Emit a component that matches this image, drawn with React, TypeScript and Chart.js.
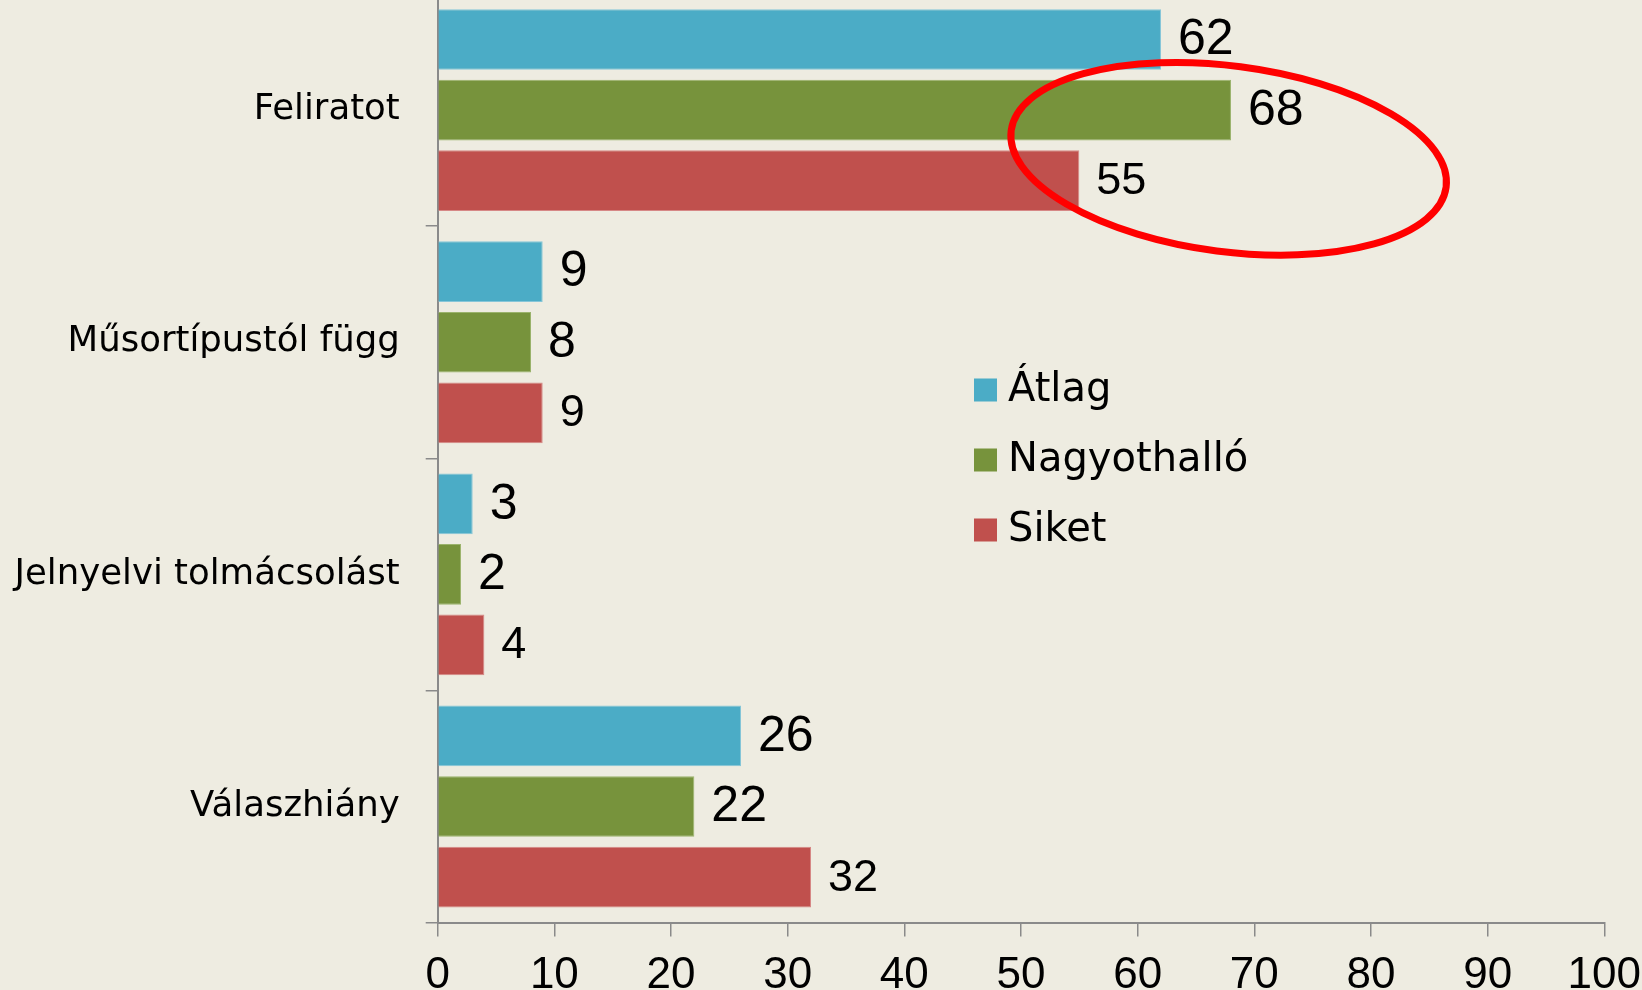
import React, { useEffect, useRef } from "react";
import { Chart, registerables } from "chart.js";

Chart.register(...registerables);

// ---- data ----
const categories = ["Feliratot", "Műsortípustól függ", "Jelnyelvi tolmácsolást", "Válaszhiány"];
const seriesNames = ["Átlag", "Nagyothalló", "Siket"];
const atlagValues = [62, 9, 3, 26];
const nagyothalloValues = [68, 8, 2, 22];
const siketValues = [55, 9, 4, 32];
const xTickMin = 0;
const xTickMax = 100;
const xTickStep = 10;

// ---- styles ----
const BG = "#EEECE1";
const COLORS = ["#4BACC6", "#77933C", "#C0504D"];
const BORDERS = ["#86c6d8", "#9bb36c", "#d68886"];
const LABEL_SIZES = [50, 50, 45];
const AXIS_COLOR = "#8a8a8a";

const CANVAS_W = 1642;
const CANVAS_H = 1060;
const CANVAS_TOP = -60;
const AREA_TOP = 54; // canvas coords
const AREA_BOTTOM = 982.6; // canvas coords
const AREA_LEFT = 437.7;
const AREA_RIGHT_GAP = 37.7;

// highlight ellipse (in data units)
const ELLIPSE_CENTER_VALUE = 67.8;
const ELLIPSE_HALF_WIDTH = 18.8;
const ELLIPSE_CENTER_INDEX = 0.21;
const ELLIPSE_HALF_HEIGHT = 0.4;
const ELLIPSE_ANGLE_DEG = 7.4;

const valueLabels = {
  id: "valueLabels",
  afterDatasetsDraw(chart: any) {
    const ctx = chart.ctx;
    chart.data.datasets.forEach((ds: any, i: number) => {
      const meta = chart.getDatasetMeta(i);
      ctx.save();
      ctx.font = `${LABEL_SIZES[i]}px "Liberation Sans", Arial, sans-serif`;
      ctx.fillStyle = "#000";
      ctx.textAlign = "left";
      ctx.textBaseline = "middle";
      meta.data.forEach((bar: any, j: number) => {
        ctx.fillText(String(ds.data[j]), bar.x + 17, bar.y + 1);
      });
      ctx.restore();
    });
  },
};

const customLegend = {
  id: "customLegend",
  afterDraw(chart: any) {
    const ctx = chart.ctx;
    const x0 = 974;
    const y0 = 390 - CANVAS_TOP;
    const rowGap = 70;
    const box = 23;
    ctx.save();
    ctx.font = `40px "DejaVu Sans", sans-serif`;
    ctx.textAlign = "left";
    ctx.textBaseline = "middle";
    chart.data.datasets.forEach((ds: any, i: number) => {
      const cy = y0 + i * rowGap;
      ctx.fillStyle = ds.backgroundColor;
      ctx.fillRect(x0, cy - box / 2, box, box);
      ctx.fillStyle = "#000";
      ctx.fillText(ds.label, x0 + 34, cy + 1);
    });
    ctx.restore();
  },
};

const highlight = {
  id: "highlight",
  afterDraw(chart: any) {
    const xs = chart.scales.x;
    const ys = chart.scales.y;
    const ctx = chart.ctx;
    const cx = xs.getPixelForValue(ELLIPSE_CENTER_VALUE);
    const rx = xs.getPixelForValue(ELLIPSE_CENTER_VALUE + ELLIPSE_HALF_WIDTH) - cx;
    const p0 = ys.getPixelForValue(0);
    const p1 = ys.getPixelForValue(1);
    const cy = p0 + (p1 - p0) * ELLIPSE_CENTER_INDEX;
    const ry = (p1 - p0) * ELLIPSE_HALF_HEIGHT;
    ctx.save();
    ctx.beginPath();
    ctx.ellipse(cx, cy, rx, ry, (ELLIPSE_ANGLE_DEG * Math.PI) / 180, 0, Math.PI * 2);
    ctx.strokeStyle = "#FF0000";
    ctx.lineWidth = 7;
    ctx.stroke();
    ctx.restore();
  },
};

export default function App() {
  const ref = useRef<HTMLCanvasElement | null>(null);

  useEffect(() => {
    if (!ref.current) return;
    const seriesValues = [atlagValues, nagyothalloValues, siketValues];
    const chart = new Chart(ref.current, {
      type: "bar",
      data: {
        labels: categories,
        datasets: seriesNames.map((name, i) => ({
          label: name,
          data: seriesValues[i],
          backgroundColor: COLORS[i],
          borderColor: BORDERS[i],
          borderWidth: 1,
          categoryPercentage: 0.912,
          barPercentage: 0.86,
        })),
      },
      options: {
        indexAxis: "y",
        animation: false,
        responsive: false,
        devicePixelRatio: 1,
        layout: { padding: { top: AREA_TOP, right: AREA_RIGHT_GAP, left: 0, bottom: 0 } },
        plugins: {
          legend: { display: false },
          tooltip: { enabled: false },
        },
        scales: {
          y: {
            type: "category",
            grid: {
              display: true,
              drawOnChartArea: false,
              drawTicks: true,
              tickLength: 12,
              color: AXIS_COLOR,
              lineWidth: 1.5,
              offset: true,
            },
            border: { display: true, color: AXIS_COLOR, width: 2 },
            ticks: {
              color: "#000",
              padding: 26,
              font: { family: '"DejaVu Sans", sans-serif', size: 35.5 },
            },
            afterFit(scale: any) {
              scale.width = AREA_LEFT;
              scale.paddingTop = 0;
              scale.paddingBottom = 0;
            },
          },
          x: {
            type: "linear",
            min: xTickMin,
            max: xTickMax,
            grid: {
              display: true,
              drawOnChartArea: false,
              drawTicks: true,
              tickLength: 14,
              color: AXIS_COLOR,
              lineWidth: 1.5,
            },
            border: { display: true, color: AXIS_COLOR, width: 2 },
            ticks: {
              stepSize: xTickStep,
              color: "#000",
              padding: 13,
              font: { family: '"Liberation Sans", Arial, sans-serif', size: 44 },
            },
            afterFit(scale: any) {
              scale.height = CANVAS_H - AREA_BOTTOM;
              scale.paddingLeft = 0;
              scale.paddingRight = 0;
            },
          },
        },
      },
      plugins: [valueLabels, customLegend, highlight],
    });
    return () => chart.destroy();
  }, []);

  return (
    <div
      style={{
        position: "fixed",
        left: 0,
        top: 0,
        width: CANVAS_W,
        height: 990,
        overflow: "hidden",
        background: BG,
      }}
    >
      <canvas
        ref={ref}
        width={CANVAS_W}
        height={CANVAS_H}
        style={{ position: "absolute", left: 0, top: CANVAS_TOP, width: CANVAS_W, height: CANVAS_H }}
      />
    </div>
  );
}
